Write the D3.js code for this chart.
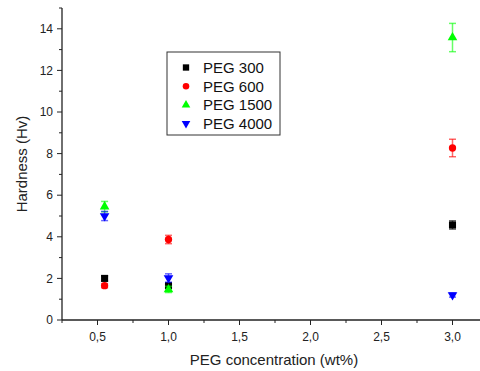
<!DOCTYPE html>
<html>
<head>
<meta charset="utf-8">
<script src="https://cdn.jsdelivr.net/npm/d3@7"></script>
<style>
  body { margin: 0; background: #fff; }
  svg { display: block; font-family: Arial, "Liberation Sans", sans-serif; }
</style>
</head>
<body>
<svg id="chart" width="480" height="371"></svg>
<script>
// data
const concentrations = [0.55, 1.0, 3.0];
const seriesNames = ['PEG 300', 'PEG 600', 'PEG 1500', 'PEG 4000'];
const peg300 = [2.0, 1.65, 4.57];
const peg600 = [1.65, 3.87, 8.27];
const peg1500 = [5.45, 1.47, 13.58];
const peg4000 = [5.0, 2.02, 1.2];
const err300 = [0.12, 0.12, 0.2];
const err600 = [0.1, 0.2, 0.42];
const err1500 = [0.25, 0.15, 0.68];
const err4000 = [0.22, 0.2, 0.1];
const xTicks = [0.5, 1.0, 1.5, 2.0, 2.5, 3.0];
const yTicks = [0, 2, 4, 6, 8, 10, 12, 14];

const colors = ['#000000', '#ff0000', '#00ff00', '#0000ff'];
const shapes = [d3.symbolSquare, d3.symbolCircle, d3.symbolTriangle, d3.symbolTriangle];
const sizes = [50, 42, 40, 40];

const series = [peg300, peg600, peg1500, peg4000].map((vals, i) => ({
  name: seriesNames[i],
  color: colors[i],
  shape: shapes[i],
  size: sizes[i],
  flip: i === 3,
  points: vals.map((v, j) => ({ x: concentrations[j], y: v, e: [err300, err600, err1500, err4000][i][j] }))
}));

const svg = d3.select('#chart');

const x = d3.scaleLinear().domain([0.25, 3.25]).range([62, 488]);
const y = d3.scaleLinear().domain([0, 15]).range([320, 8]);

// bottom axis
const xAxis = svg.append('g').attr('transform', 'translate(0,320)');
xAxis.append('line')
  .attr('x1', x(0.25)).attr('x2', 480)
  .attr('stroke', '#222').attr('stroke-width', 1.3);
xAxis.selectAll('line.minor')
  .data(d3.range(0.25, 3.3, 0.5))
  .enter().append('line')
  .attr('class', 'minor')
  .attr('x1', d => x(d)).attr('x2', d => x(d))
  .attr('y1', 0).attr('y2', 3)
  .attr('stroke', '#222');
xAxis.selectAll('line.major')
  .data(xTicks)
  .enter().append('line')
  .attr('class', 'major')
  .attr('x1', d => x(d)).attr('x2', d => x(d))
  .attr('y1', 0).attr('y2', 5)
  .attr('stroke', '#222');
xAxis.selectAll('text')
  .data(xTicks)
  .enter().append('text')
  .attr('x', d => x(d))
  .attr('y', 21)
  .attr('text-anchor', 'middle')
  .style('font-size', '12px')
  .style('fill', '#222')
  .text(d => d3.format('.1f')(d).replace('.', ','));

// left axis
const yAxis = svg.append('g').attr('transform', 'translate(62,0)');
yAxis.append('line')
  .attr('y1', y(0)).attr('y2', y(15))
  .attr('stroke', '#222').attr('stroke-width', 1.3);
yAxis.selectAll('line.minor')
  .data(d3.range(1, 16, 2))
  .enter().append('line')
  .attr('class', 'minor')
  .attr('y1', d => y(d)).attr('y2', d => y(d))
  .attr('x1', 0).attr('x2', -3)
  .attr('stroke', '#222');
yAxis.selectAll('line.major')
  .data(yTicks)
  .enter().append('line')
  .attr('class', 'major')
  .attr('y1', d => y(d)).attr('y2', d => y(d))
  .attr('x1', 0).attr('x2', -5)
  .attr('stroke', '#222');
yAxis.selectAll('text')
  .data(yTicks)
  .enter().append('text')
  .attr('x', -9)
  .attr('y', d => y(d))
  .attr('dy', '0.35em')
  .attr('text-anchor', 'end')
  .style('font-size', '12px')
  .style('fill', '#222')
  .text(d => d);

// axis titles
svg.append('text')
  .attr('x', 274).attr('y', 365)
  .attr('text-anchor', 'middle')
  .style('font-size', '15px')
  .style('fill', '#222')
  .text('PEG concentration (wt%)');
svg.append('text')
  .attr('transform', 'translate(27,164) rotate(-90)')
  .attr('text-anchor', 'middle')
  .style('font-size', '15px')
  .style('fill', '#222')
  .text('Hardness (Hv)');

// points with error bars
const groups = svg.append('g').selectAll('g')
  .data(series)
  .enter().append('g');

groups.each(function(s) {
  const g = d3.select(this);
  const pts = g.selectAll('g').data(s.points).enter().append('g');
  pts.append('line')
    .attr('x1', d => x(d.x)).attr('x2', d => x(d.x))
    .attr('y1', d => y(d.y - d.e)).attr('y2', d => y(d.y + d.e))
    .attr('stroke', s.color).attr('stroke-opacity', 0.6).attr('stroke-width', 1.5);
  [-1, 1].forEach(sign => {
    pts.append('line')
      .attr('x1', d => x(d.x) - 3.5).attr('x2', d => x(d.x) + 3.5)
      .attr('y1', d => y(d.y + sign * d.e)).attr('y2', d => y(d.y + sign * d.e))
      .attr('stroke', s.color).attr('stroke-opacity', 0.6).attr('stroke-width', 1.5);
  });
  pts.append('path')
    .attr('d', d3.symbol().type(s.shape).size(s.size))
    .attr('transform', d => `translate(${x(d.x)},${y(d.y)})${s.flip ? ' rotate(180)' : ''}`)
    .attr('fill', s.color);
});

// legend
const legend = svg.append('g').attr('transform', 'translate(167,52)');
legend.append('rect')
  .attr('width', 113).attr('height', 83)
  .attr('fill', '#fff')
  .attr('stroke', '#333').attr('stroke-width', 1);
const items = legend.selectAll('g.item')
  .data(series)
  .enter().append('g')
  .attr('class', 'item')
  .attr('transform', (d, i) => `translate(0,${15.5 + i * 18.7})`);
items.append('path')
  .attr('d', d => d3.symbol().type(d.shape).size(d.size * 0.8)())
  .attr('transform', d => `translate(19,0)${d.flip ? ' rotate(180)' : ''}`)
  .attr('fill', d => d.color);
items.append('text')
  .attr('x', 36)
  .attr('dy', '0.36em')
  .style('font-size', '15px')
  .style('fill', '#111')
  .text(d => d.name);
</script>
</body>
</html>
